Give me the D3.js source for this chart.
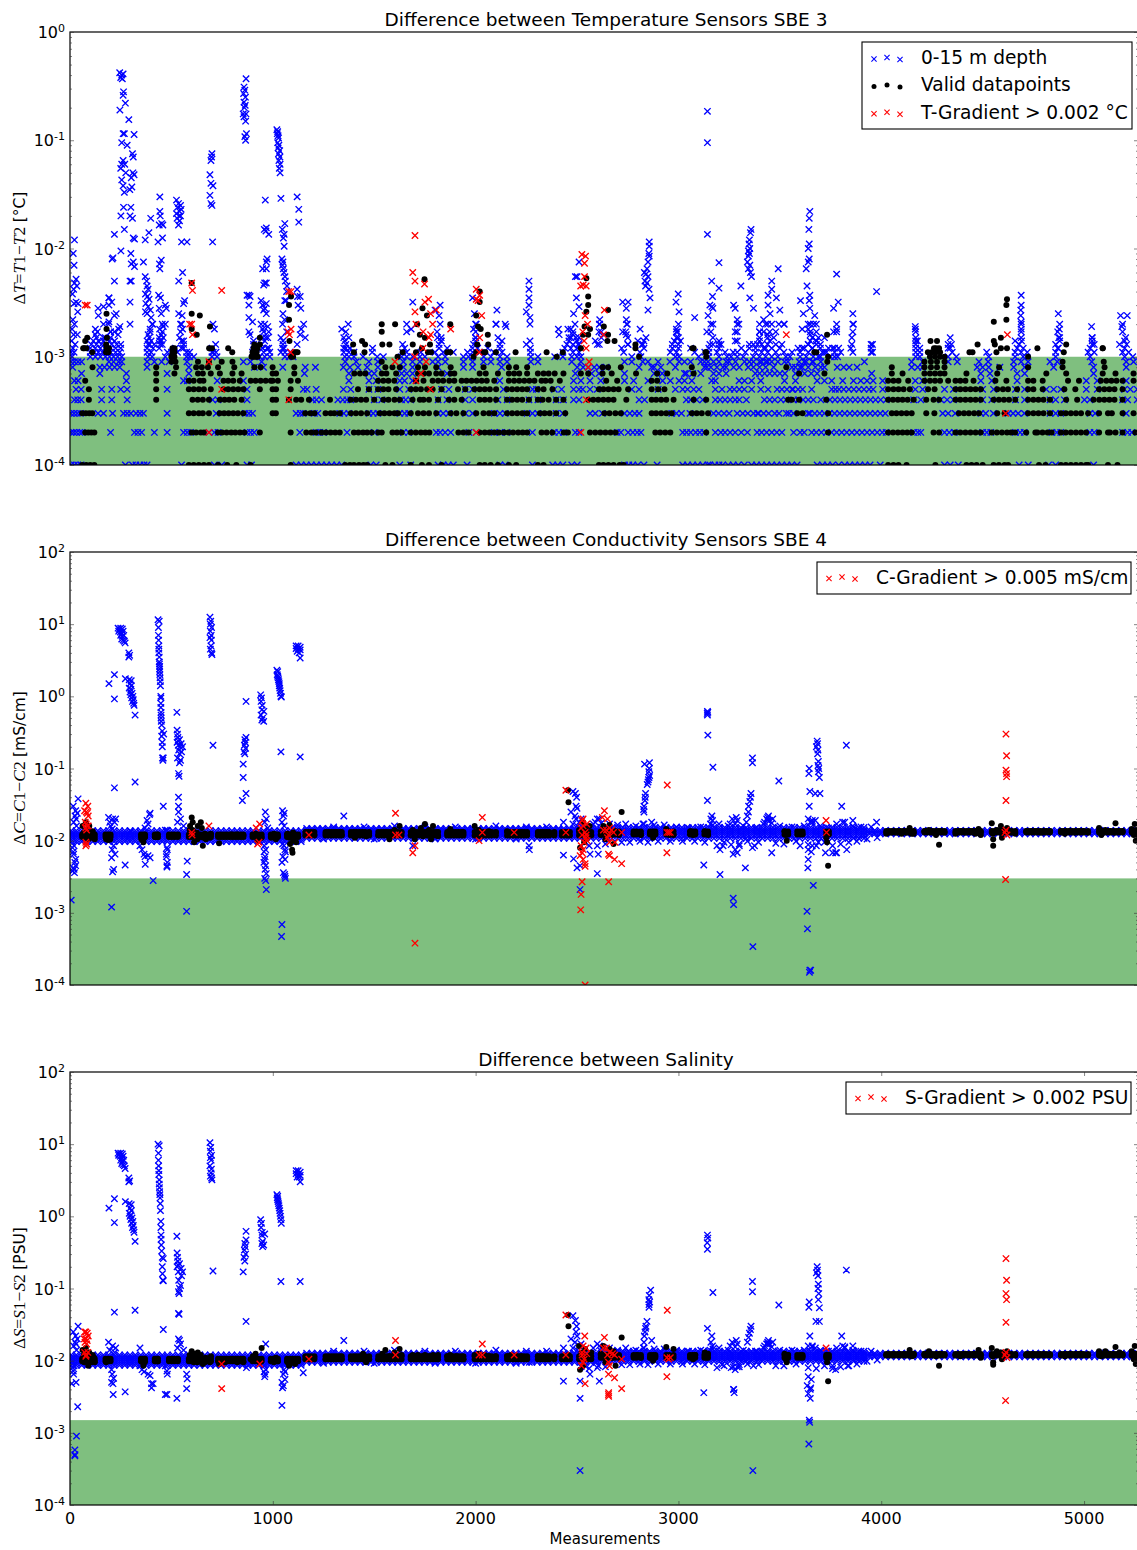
<!DOCTYPE html>
<html><head><meta charset="utf-8">
<script src="https://cdn.jsdelivr.net/npm/d3@7/dist/d3.min.js"></script>
<style>html,body{margin:0;padding:0;background:#fff;overflow:hidden}svg{display:block}text{font-family:"DejaVu Sans",sans-serif;fill:#000}</style>
</head><body><svg id="c" width="1137" height="1550"></svg>
<script>
// ---- Temperature panel: quantised rows (x values per level)
const tLevels=[.0001,.0002,.0003,.0004,.0005,.0006,.0007,.0008,.0009,.001,.0011,.0012,.0013,.0014,.0015,.0017,.002];
const tB1=[5,22,38,55,273,308,325,345,365,380,550,712,748,873,895,1115,1140,1165,1190,1215,1240,1265,1290,1315,1340,1483,1510,1626,1680,1815,1840,1865,1890,1958,2120,2146,2280,2380,2405,2430,2474,2501,2734,2755,2775,2800,2830,2895,3021,3045,3070,3095,3120,3145,3155,3180,3200,3218,3245,3270,3295,3325,3361,3385,3410,3435,3460,3485,3510,3535,3559,3585,3684,3710,3735,3760,3790,3820,3845,3870,3895,3920,3945,3995,4312,4340,4380,4680,4725,4825,4860,5047];
const tB2=[5,18,32,48,60,200,318,335,353,416,479,560,578,595,685,712,730,873,890,908,1133,1214,1232,1250,1366,1500,1644,1670,1806,1825,1850,1877,1967,2003,2092,2120,2155,2280,2388,2410,2433,2492,2510,2698,2716,2752,2775,2797,2815,3021,3040,3060,3085,3105,3125,3182,3209,3230,3255,3280,3310,3340,3388,3410,3435,3460,3485,3510,3568,3600,3657,3680,3705,3730,3755,3780,3805,3830,3855,3880,3905,3930,3955,3980,4005,4024,4160,4180,4195,4312,4335,4360,4500,4520,4540,4662,4685,4705,4842,4865,4885,5029,5050,5190,5215,5235];
const tB3=[4,20,36,52,138,165,210,264,282,300,326,345,362,479,721,864,882,900,1115,1135,1150,1205,1222,1330,1350,1375,1474,1495,1518,1626,1650,1670,1815,1840,1868,1950,1985,2092,2120,2146,2254,2280,2307,2397,2430,2564,2590,2625,2734,2760,2785,2806,2967,2990,3015,3057,3173,3198,3225,3250,3290,3317,3342,3370,3395,3420,3445,3475,3496,3532,3567,3648,3672,3696,3720,3745,3770,3795,3820,3845,3870,3895,3920,3945,3970,3995,4020,4303,4330,4365,4491,4515,4553,4626,4650,4675,4706,4832,4860,4885,5029,5055,5208];
const tB4=[22,38,55,156,206,282,703,730,873,1196,1215,1240,1321,1345,1365,1384,1500,1537,1635,1655,1680,1815,1859,1949,1985,2110,2155,2263,2307,2397,2433,2483,2510,2806,2833,3039,3060,3090,3120,3182,3205,3230,3255,3280,3300,3335,3424,3450,3475,3505,3568,3590,3615,3640,3665,3702,3747,3772,3797,3822,3847,3872,3897,3922,3947,3972,3997,4025,4160,4195,4294,4325,4356,4500,4545,4662,4707,4832,4860,4903,5002,5029,5190,5215,5262];
const tB5=[30,55,156,206,250,282,479,873,1151,1169,1214,1348,1384,1474,1518,1626,1670,1832,1868,1949,1985,2137,2281,2299,2388,2424,2483,2510,2528,2564,2600,2770,2806,2985,3021,3045,3075,3101,3182,3215,3254,3275,3300,3325,3361,3406,3442,3487,3510,3535,3560,3590,3612,3657,3756,3774,3792,3815,3840,3865,3890,3915,3940,3960,4007,4168,4204,4312,4356,4500,4554,4662,4707,4814,4850,4886,5011,5065,5199,5228,5262];
const tB6=[22,40,278,560,578,726,855,1375,1474,1510,1626,1650,1689,2119,2483,2519,2564,2617,2734,2779,2922,2960,3003,3030,3066,3164,3182,3299,3326,3361,3406,3523,3577,3684,3720,3756,3810,3863,3899,3930,3960,4007,4168,4204,4491,4545,4670,5011,5065,5208];
const tB7=[57,147,278,479,586,1156,1375,1474,1500,1635,1660,1689,1859,2492,2572,2608,2734,3039,3173,3200,3235,3379,3400,3425,3450,3475,3500,3525,3577,3622,3655,3684,3953,4491,4536,4670,4707,5047];
const tB8=[13,147,170,195,220,245,380,586,909,954,1049,1160,1210,1348,1380,1420,1465,1518,1644,1689,1815,1940,1985,2128,2501,2530,2555,2585,2610,2644,2806,2868,2913,2985,3128,3160,3190,3235,3272,3300,3344,3370,3400,3430,3469,3577,3610,3640,3675,3702,3783,3815,3842,3881,4150,4180,4204,4473,4500,4530,4585,4653,4707,4850,5047,5208];
const tB9=[5,22,40,57,192,215,240,255,380,416,452,488,577,855,890,945,1357,1411,1474,1518,1644,1689,1725,1788,1815,1850,1940,1985,2039,2075,2120,2155,2272,2307,2474,2519,2734,2770,2824,2958,3003,3128,3146,3173,3200,3236,3281,3326,3370,3400,3430,3460,3490,3523,3595,3630,3665,3702,3917,4150,4204,4330,4375,4482,4527,4653,4690,4724,4832,4868,5038,5208,5244];
const tB10=[10,100,125,150,175,195,215,235,255,385,405,470,575,590,610,700,725,910,935,960,985,1060,1080,1100,1355,1375,1400,1445,1515,1545,1635,1660,1690,1725,1750,1815,1850,1940,1965,1985,2040,2075,2120,2155,2272,2307,2390,2430,2474,2500,2519,2770,2815,2985,3003,3150,3200,3240,3290,3320,3370,3400,3430,3460,3490,3550,3600,3630,3665,3690,3750,3770,3785,4170,4190,4330,4370,4530,4660,4700,4860,5030,5200,5240];
const tB11=[5,20,100,120,140,160,180,200,225,245,380,400,480,500,530,575,590,700,720,900,920,955,985,1060,1085,1350,1375,1400,1490,1640,1660,1730,1800,1840,1890,1960,1985,2020,2090,2130,2270,2430,2480,2510,2730,2810,2960,2990,3150,3190,3230,3290,3380,3410,3440,3480,3520,3600,3640,3680,3710,3730,3770,3800,3860,3950,4170,4190,4350,4520,4660,4690,4720,4860,5020,5050,5190,5220];
const tB12=[15,100,125,150,175,200,225,250,380,410,440,520,550,700,915,950,980,1055,1350,1380,1650,1820,1860,1985,2010,2060,2120,2270,2440,2470,2500,2720,2830,2970,3000,3060,3150,3200,3310,3380,3420,3460,3500,3590,3620,3660,3700,3760,3790,3850,3950,4170,4340,4670,4700,4870,5030,5200];
const tB13=[25,105,130,155,180,205,230,250,385,415,445,560,905,945,1050,1120,1360,1820,1990,2120,2450,2480,2510,2610,2750,2820,2970,3000,3170,3210,3350,3390,3440,3480,3640,3680,3700,3950,4170,4330,4680,4860,5050,5210];
const tB14=[8,115,140,165,195,220,380,400,450,560,905,960,1050,1355,1830,2000,2130,2460,2500,2590,2800,2830,2980,3010,3200,3280,3400,3450,3650,3680,4170,4660,4880,5040,5200];
const tB15=[130,165,200,390,440,460,540,950,975,1350,1830,2000,2470,2510,2620,2750,2840,2990,3170,3400,3440,3470,3660,3690,3720,4170,4340,4690,4880,5040];
const tB17=[135,200,395,455,545,955,1360,1660,1810,2000,2480,2620,2740,2990,3140,3160,3290,3400,3420,3450,3650,3680,3780,3860,4170,4690,4870,5190];
const tB20=[190,405,455,550,960,1660,1825,2000,2100,2490,2610,2745,3000,3170,3290,3400,3440,3460,3520,3650,3680,3780,3860,4690,4880,5190];
const tBlueExtra=[3030,.0007,3070,.0007,3110,.0007,3140,.0008,3220,.0008,3250,.0009,3350,.0009,3410,.0009,3440,.0009,3540,.0009,3560,.0008,3600,.0008,3620,.0009,3660,.0009,3720,.0008,3030,.0009,3060,.0009,3110,.0009,3100,.001,3130,.0011,3080,.0011,3260,.001,3270,.0011,3330,.0011,3350,.0012,3370,.0013,3410,.0013,3430,.0012,3530,.001,3560,.0011,3610,.0012,3640,.0013,3660,.0012,3680,.0014,3700,.001,3720,.0011,3740,.0012,2850,.0009,2880,.0008,2900,.0009,2920,.0007,2850,.0006,2880,.0007,2900,.0005,3390,.0003,3530,.0004,3545,.0003,3565,.0005,3620,.0002,3640,.0003];
const tK1=[60,80,100,120,586,610,635,660,685,730,775,820,890,1088,1357,1380,1400,1425,1447,1465,1555,1590,1680,1735,1770,1832,2020,2045,2074,2110,2164,2200,2307,2335,2608,2630,2655,2680,2710,2730,4034,4060,4085,4125,4267,4420,4445,4470,4500,4554,4580,4608,4626,4778,4810,4886,4910,4935,4960,4985,5010,5020,5118,5165];
const tK2=[75,90,105,120,600,622,645,660,730,750,772,795,815,838,860,936,1088,1165,1190,1212,1240,1262,1285,1308,1330,1400,1422,1445,1465,1488,1520,1537,1590,1612,1635,1680,1705,1730,1752,1772,1915,1940,1965,2020,2045,2068,2092,2115,2140,2162,2185,2210,2232,2254,2325,2350,2378,2435,2455,2564,2590,2615,2640,2665,2690,2886,2910,2935,2960,3137,3738,4034,4058,4082,4105,4128,4150,4258,4285,4366,4390,4415,4440,4465,4490,4545,4570,4595,4620,4640,4660,4715,4760,4770,4795,4820,4840,4886,4910,4935,4960,4985,5010,5074,5118,5128,5155,5190,5253];
const tK3=[60,78,95,110,586,610,635,655,685,738,760,782,805,828,855,999,1015,1160,1185,1205,1260,1285,1303,1330,1385,1410,1435,1465,1527,1550,1575,1600,1617,1680,1716,1743,1770,1806,1877,1905,1940,2003,2039,2066,2092,2155,2180,2205,2230,2254,2317,2340,2365,2397,2442,2635,2660,2689,2716,2868,2890,2915,2940,2967,3066,3090,3115,3146,3586,3612,3738,4052,4075,4100,4125,4150,4222,4262,4383,4408,4432,4458,4482,4572,4608,4724,4750,4775,4800,4832,4886,4910,4935,4960,4985,5020,5074,5118,5137,5190,5244];
const tK4=[93,425,604,630,655,685,739,762,785,810,846,999,1016,1079,1115,1140,1178,1282,1384,1410,1435,1460,1500,1545,1570,1600,1626,1689,1725,1743,1770,1815,1868,1895,1931,2020,2045,2070,2101,2155,2180,2205,2230,2263,2307,2330,2360,2397,2433,2555,2580,2605,2630,2655,2680,2743,2868,2890,2915,2940,2976,3075,3137,3541,3559,3595,3729,4034,4058,4082,4105,4130,4160,4222,4258,4285,4366,4390,4415,4440,4465,4491,4554,4580,4605,4630,4661,4724,4750,4775,4800,4832,4912,4966,5047,5075,5100,5125,5150,5190];
const tK5=[93,425,586,610,635,660,694,757,780,805,830,855,936,999,1016,1088,1420,1474,1519,1545,1570,1608,1680,1705,1730,1761,1788,1832,1913,1949,1994,2020,2045,2070,2101,2155,2180,2205,2230,2254,2307,2335,2379,2608,2630,2655,2680,2705,2752,2868,2900,2931,4034,4060,4085,4110,4141,4231,4263,4366,4390,4415,4440,4465,4491,4572,4600,4625,4670,4724,4750,4796,4903,4957,5074,5100,5125,5150,5190];
const tK6=[75,425,586,610,640,658,757,780,805,837,891,915,940,965,990,999,1025,1088,1124,1519,1545,1570,1599,1707,1743,1788,1815,1840,1870,1895,1931,1955,1980,2005,2030,2055,2092,2164,2190,2215,2240,2265,2290,2325,2345,2370,2415,2644,2698,2868,2895,4034,4060,4085,4133,4213,4240,4265,4290,4330,4366,4390,4415,4455,4563,4617,4724,4750,4796,4921,4975,5083,5110,5135,5160,5190,5244];
const tK7=[425,515,631,655,694,739,801,846,999,1016,1106,1402,1430,1456,1537,1560,1608,1716,1745,1770,1806,1832,1877,1895,2020,2050,2110,2164,2190,2215,2254,2307,2335,2360,2390,2433,2519,2555,2626,2671,2791,2895,2945,3075,3595,3720,4052,4105,4213,4240,4265,4290,4312,4420,4572,4814,4912,5092,5155,5244];
const tK8=[111,425,523,622,650,680,730,810,909,940,999,1106,1555,1590,1626,1716,1750,1806,1877,2039,2164,2200,2254,2626,2653,2716,3066,3532,4052,4213,4245,4275,4312,4581,4724,4894,5101];
const tK9=[500,520,631,685,748,801,1537,3734,4213,4245,4275,4312,4894,5097];
const tK10=[500,505,515,895,905,915,925,4240,4265,4290,4312,3137,3738,2400,1090,1100,1615,1990];
const tK11=[505,515,900,910,920,4250,4270,4290,110,180,190,2430,1106,1122,1640,1706,1765,1860,4435,3670,3680,2040,2100];
const tK12=[65,80,180,192,505,515,700,905,915,925,4270,4285,3075,4770,4620,5092];
// ---- Temperature panel: free points above the rows, flat x,value
const tHighBlue=[22,.012,16,.009,20,.007,30,.0052,22,.0048,34,.0045,18,.0042,12,.0038,30,.0032,20,.0031,40,.0031,38,.0026,14,.0022,22,.002,10,.0018,36,.0016,18,.0016,
138,.0028,165,.0029,140,.0024,165,.002,125,.0018,125,.0016,192,.0021,192,.0035,206,.0032,192,.003,219,.0024,200,.0017,246,.0019,237,.0016,174,.0015,219,.0017,228,.0025,240,.0018,
245,.42,255,.4,262,.41,250,.38,258,.37,264,.28,262,.26,273,.22,246,.19,290,.155,262,.115,316,.113,268,.115,255,.095,282,.09,308,.075,312,.07,262,.065,255,.06,270,.06,250,.055,275,.05,310,.05,316,.048,302,.045,255,.043,262,.038,305,.037,268,.033,295,.035,264,.024,300,.024,251,.02,296,.02,308,.019,268,.015,312,.0125,318,.0122,251,.0095,208,.008,212,.0082,300,.009,302,.0072,312,.0075,318,.0068,219,.0135,219,.005,296,.005,302,.005,192,.0035,296,.0032,296,.002,
371,.012,389,.014,398,.019,362,.0075,371,.0055,378,.005,380,.0045,385,.0042,372,.0038,382,.0036,390,.0034,374,.0031,385,.0029,396,.0027,372,.0026,380,.0025,400,.0023,408,.002,395,.0018,385,.0016,393,.0013,
443,.03,443,.022,445,.02,452,.017,440,.0165,458,.0165,456,.0125,434,.0115,450,.0078,441,.0072,443,.0065,437,.0037,446,.0035,470,.003,440,.0028,450,.0025,475,.0028,470,.002,460,.0019,442,.0018,450,.0016,442,.0014,455,.0013,
525,.028,535,.026,545,.025,530,.024,540,.022,548,.023,525,.021,538,.02,545,.02,528,.019,540,.018,535,.0165,550,.0115,577,.0115,555,.006,536,.005,565,.0033,560,.0031,536,.0025,553,.0024,545,.002,555,.0018,550,.0014,560,.0012,
700,.075,695,.065,698,.07,690,.048,695,.04,705,.038,690,.031,695,.026,700,.025,703,.0115,705,.002,712,.0018,718,.0013,706,.0011,
868,.37,858,.31,862,.29,856,.27,865,.25,858,.225,864,.21,860,.2,854,.175,868,.175,858,.165,866,.15,870,.115,862,.108,866,.1,
873,.0037,882,.0037,888,.0036,882,.003,882,.0023,900,.0021,882,.0017,888,.0016,
963,.028,958,.015,968,.0155,966,.0145,980,.0135,968,.0075,972,.008,950,.0065,968,.0065,960,.0048,968,.0048,955,.0046,942,.0033,950,.003,968,.0031,960,.0028,955,.0027,968,.0025,942,.002,975,.0019,950,.0018,980,.0017,965,.0015,950,.0012,972,.0012,
1020,.125,1024,.12,1022,.115,1026,.11,1028,.105,1024,.095,1030,.09,1026,.085,1034,.08,1028,.075,1035,.07,1030,.065,1036,.06,1032,.055,1036,.05,1040,.029,1059,.017,1047,.015,1056,.0135,1052,.0125,1056,.0105,1045,.008,1050,.0075,1048,.007,1052,.0065,1055,.006,1060,.0055,1062,.005,1070,.0045,1068,.004,1059,.0033,1066,.0033,1050,.0025,1058,.0022,1048,.002,1068,.0017,1040,.0015,1048,.0012,1040,.0011,
1120,.03,1128,.023,1128,.0175,1120,.0042,1122,.0036,1135,.0036,1125,.003,1138,.0028,1152,.002,1140,.0018,1160,.0015,1135,.0016,
1340,.0018,1372,.002,1375,.0015,1380,.0012,1360,.0012,1492,.0012,1640,.0013,1690,.0032,1682,.0018,1825,.003,1800,.0027,1820,.0024,1812,.0015,1830,.0014,1985,.0035,1994,.0025,2003,.002,1990,.0018,2000,.0015,2105,.0027,2101,.002,2110,.0015,2146,.002,2150,.0019,2263,.005,2263,.0042,2263,.0035,2263,.003,2250,.0026,2268,.0023,2268,.002,2268,.0014,2250,.0013,2408,.0018,2412,.0016,2455,.0018,2460,.0015,
2510,.0075,2500,.0055,2492,.0055,2497,.0035,2483,.0025,2510,.0029,2470,.0018,2480,.0016,2495,.0015,2505,.0013,2612,.0022,2612,.002,2608,.0017,2600,.0013,2725,.0032,2752,.0032,2743,.0028,2743,.0022,2748,.002,2725,.0017,2743,.0016,2752,.0013,2811,.0018,2825,.0013,
2856,.0115,2856,.0105,2854,.009,2856,.0085,2850,.0075,2845,.0065,2832,.006,2840,.0058,2850,.0055,2835,.005,2845,.0048,2838,.0045,2855,.0042,2860,.0035,2850,.0027,
2999,.0038,2988,.0032,3003,.0026,2990,.0018,2995,.0017,3000,.0015,3080,.0023,3143,.185,3143,.095,3143,.0135,3164,.005,3168,.0036,3155,.003,3165,.0029,3170,.0028,3146,.0024,3160,.002,3155,.0013,3200,.0074,3200,.0043,3200,.0013,
3272,.003,3280,.0028,3290,.0022,3308,.0045,3298,.002,3280,.0017,3290,.0014,
3358,.015,3355,.014,3350,.012,3348,.011,3352,.01,3345,.0095,3350,.009,3345,.0085,3340,.0075,3352,.007,3345,.0065,3355,.006,3360,.0055,3352,.0035,3370,.0028,3420,.0022,3430,.002,3440,.0016,3400,.0017,
3460,.005,3460,.0042,3442,.0037,3483,.0035,3442,.003,3452,.0025,3495,.002,3492,.0065,3522,.002,3500,.0027,3480,.0017,3510,.0013,
3648,.022,3645,.019,3643,.015,3645,.011,3640,.01,3645,.008,3640,.0075,3630,.0065,3634,.0045,3648,.0037,3602,.0033,3645,.0033,3648,.0028,3616,.0025,3640,.002,3666,.002,3672,.0024,3610,.0018,3640,.0018,3650,.0016,
3780,.0058,3788,.0032,3765,.0028,3780,.0018,3765,.0017,3770,.0012,3860,.0025,3863,.002,3855,.0015,3855,.0013,3977,.004,3957,.0013,3957,.0011,
4168,.0019,4168,.0018,4178,.0014,4190,.0012,4346,.0013,4330,.0012,4690,.0037,4690,.003,4688,.0027,4688,.0024,4690,.0021,4690,.0018,4692,.0014,4873,.0025,4878,.0018,4875,.0015,4873,.0012,5037,.0019,5040,.0015,5040,.0013,5180,.0024,5213,.0024,5186,.0019,5205,.0015,5175,.0013];
const tHighBlack=[70,.0012,75,.0014,85,.0015,180,.0025,180,.0018,182,.0015,178,.0013,184,.0012,178,.0011,
600,.0048,600,.0025,640,.0024,600,.0018,625,.0016,690,.0019,686,.0012,780,.0012,800,.0011,
936,.0015,909,.0013,936,.0013,920,.0012,1090,.0036,1080,.003,1080,.0022,1082,.0014,1115,.0011,
1396,.0013,1440,.0014,1455,.0013,1400,.0011,1452,.0011,1537,.002,1537,.0017,1540,.0013,1575,.0013,1603,.002,
1690,.0013,1748,.0052,1738,.0028,1760,.0024,1712,.002,1725,.0016,1750,.0015,1775,.0013,1735,.0012,1780,.0011,1875,.002,1875,.0011,
2003,.0011,2020,.004,2020,.0032,2003,.0024,2012,.0019,2025,.0018,2008,.0013,2060,.0016,2062,.0013,2048,.0011,2197,.0011,2350,.0011,
2546,.0053,2555,.0036,2555,.003,2546,.0026,2537,.0019,2564,.0018,2530,.0016,2555,.0016,2519,.0012,2653,.0027,2632,.0019,2653,.0016,2650,.0014,2685,.0014,2788,.0013,2788,.0012,2806,.001,3069,.0012,3137,.0011,3133,.0011,3733,.0016,
4243,.0014,4275,.0014,4260,.0012,4230,.0011,4620,.0034,4617,.003,4617,.0022,4555,.0021,4555,.0014,4560,.0013,4568,.0011,4590,.0015,4590,.0012,4450,.0011,4475,.0013,4724,.001,4900,.0011,4912,.0013,5092,.0012];
const tRed=[75,.003,85,.003,600,.0048,604,.0041,748,.0041,590,.002,600,.002,604,.0016,685,.0009,685,.0002,748,.0005,
1079,.004,1090,.004,1075,.0017,1090,.0018,1082,.0016,1088,.0011,1079,.0004,
1701,.0132,1690,.006,1701,.005,1701,.0026,1706,.002,1741,.0017,1768,.0034,1750,.0032,1748,.0047,1778,.0025,1806,.0027,1788,.002,1778,.0016,1770,.0015,1741,.0012,1700,.001,1602,.0009,1756,.0009,1706,.0006,1730,.0007,1778,.0005,1877,.0018,
2003,.0042,2020,.0037,2012,.0033,2003,.0034,2030,.0024,2020,.0015,2017,.0011,2003,.0002,
2524,.0088,2542,.0085,2537,.0073,2537,.0055,2518,.0045,2530,.0046,2545,.0045,2540,.0024,2552,.002,2528,.0017,2535,.0014,2545,.0012,2560,.0009,2555,.0008,2546,.0004,2519,.0002,
2635,.0027,2630,.0016,3532,.0016,4622,.0016,4613,.0003];
// ---- Conductivity / Salinity bands: shared x positions per section
const bandX0=[6,31,58,84,112,137,165,190,217,244,270,296,322,349,375,402,428,455,480,507,534,560,586,612,640,665,692,718,745,771,798,824,850,877,903,930,955,982,1008,1035,1061,1088,1114,1140];
const bandX1=[1167,1193,1220,1246,1273,1299,1325,1352,1378,1405,1431,1458,1484,1510,1537,1563,1590,1616,1643,1669,1695,1722,1748,1775,1801,1828,1854,1880,1907,1933,1960,1986,2013,2039,2065,2092,2118,2145,2171,2198,2224,2250,2277,2303,2330,2356,2383,2409,2435,2462,2488,2515,2541,2568,2594];
const bandX2=[2620,2647,2673,2700,2726,2753,2779,2805,2832,2858,2885,2911,2938,2964,2990,3017,3043,3070,3096,3123,3149,3175,3202,3228,3255,3281,3308,3334,3360,3387,3413,3440,3466,3493,3519,3545,3572,3598,3625,3651,3678,3704,3730,3757,3783,3810,3836,3863,3889,3915];
const bandX3=[3942,3968,3995,4021,4048,4074,4100,4127,4153,4180,4206,4233,4259,4285,4312,4338,4365,4391,4418,4444,4470,4497,4523,4550,4576,4603,4629,4655,4682,4708,4735,4761,4788,4814,4840,4867,4893,4920,4946,4973,4999,5025,5052,5078,5105,5131,5158,5184,5210,5237,5263];
const cBandRows=[[.0097,.0104,.0112,.012,.0128,.0137],[.0108,.0116,.0124,.0132,.014,.0148],[.0108,.0118,.0126,.0134,.0142,.0152],[.0124,.0131,.0139]];
const sBandRows=[[.0086,.0092,.0098,.0105,.0112,.012],[.0095,.0101,.0107,.0113,.012,.0127],[.0098,.0105,.0112,.0119,.0127,.0135],[.0113,.012,.0127]];
// ---- Black band sections (x) shared by both panels, with levels per section
const blackX0=[60,74,88,102,116,122,175,188,200,350,362,370,418,430,434,488,502,516,532,586,600,614,628,642,656,670,684,695,730,744,758,772,786,800,814,828,842,855,900,914,928,945,990,1004,1018,1025,1070,1084,1098,1112,1125];
const blackX1=[1160,1174,1188,1205,1260,1274,1288,1302,1316,1330,1340,1385,1399,1413,1427,1441,1455,1475,1520,1534,1548,1562,1576,1590,1604,1618,1635,1680,1694,1708,1722,1736,1750,1764,1778,1792,1806,1815,1860,1874,1888,1902,1916,1930,1940,1995,2009,2023,2037,2051,2065,2079,2100,2155,2169,2183,2197,2211,2225,2239,2254,2307,2321,2335,2349,2363,2388,2425,2439,2453,2465,2510,2524,2538,2552,2570];
const blackX2=[2617,2631,2645,2659,2673,2687,2707,2779,2793,2815,2860,2874,2886,2940,2954,2976,3057,3070,3083,3128,3146,3523,3541,3586,3600,3612,3729,3742];
const blackX3=[4025,4039,4053,4067,4081,4095,4109,4123,4137,4160,4213,4227,4241,4255,4269,4283,4297,4312,4366,4380,4394,4408,4422,4436,4450,4464,4478,4491,4545,4559,4573,4587,4601,4615,4629,4643,4661,4715,4729,4743,4757,4771,4785,4799,4813,4832,4886,4900,4914,4928,4942,4956,4970,4984,4998,5020,5074,5088,5102,5116,5130,5144,5158,5172,5190,5235,5249,5263];
const cBlackRows=[[.0112,.0122],[.0118,.0132],[.0122,.0134],[.013,.0136]];
const sBlackRows=[[.0098,.0106],[.0105,.0115],[.011,.012],[.0118,.0124]];
// ---- Black band, flat x,value
const cBlack=[62,.016,68,.013,70,.011,78,.018,82,.014,85,.012,90,.0105,95,.016,100,.013,105,.011,112,.0135,118,.012,122,.0105,178,.0105,188,.0102,198,.0104,352,.0105,358,.0115,362,.0095,368,.011,420,.0112,432,.0112,490,.0118,505,.0118,520,.0118,532,.012,
590,.012,590,.014,592,.016,600,.021,605,.018,605,.014,610,.012,612,.0095,625,.013,628,.0105,630,.016,640,.012,645,.018,650,.015,655,.0085,658,.011,665,.0125,670,.0105,680,.012,690,.011,695,.0125,
735,.0115,735,.0092,750,.012,765,.0118,780,.012,795,.0122,810,.012,825,.0122,840,.012,855,.0118,902,.0115,915,.0125,925,.01,935,.0115,945,.011,992,.011,1005,.0125,1015,.0105,1025,.0115,1072,.0125,1080,.011,1085,.009,1097,.0068,1095,.0075,1100,.013,1100,.01,1110,.012,1115,.0095,1125,.0115,
1165,.012,1180,.0125,1195,.012,1205,.0122,1260,.0125,1280,.013,1300,.0125,1320,.0128,1340,.012,1385,.0125,1405,.011,1420,.0125,1440,.013,1460,.0115,1475,.0125,1520,.012,1540,.0125,1555,.013,1575,.0105,1580,.0125,1600,.014,1610,.012,1625,.016,1635,.013,
1680,.012,1690,.014,1700,.0105,1715,.0125,1730,.015,1740,.0115,1750,.017,1762,.012,1770,.014,1780,.0105,1790,.016,1800,.0125,1815,.0115,1860,.0125,1875,.0145,1885,.012,1905,.0125,1920,.013,1940,.0125,1995,.016,2003,.0125,2015,.014,2025,.0115,2045,.0125,2065,.0135,2085,.0125,2100,.013,2155,.0135,2175,.013,2200,.0125,2225,.013,2254,.0125,2307,.0128,2330,.013,2360,.0125,2388,.0125,2425,.0125,2445,.012,2455,.05,2458,.034,2458,.013,
2510,.014,2515,.008,2522,.012,2530,.018,2535,.0095,2540,.015,2548,.011,2555,.013,2562,.016,2570,.012,2617,.012,2630,.016,2640,.0105,2650,.014,2660,.0165,2670,.012,2680,.009,2690,.0135,2707,.012,2720,.025,2779,.0125,2800,.013,2815,.012,2860,.0125,2875,.011,2886,.0125,2940,.0145,2955,.012,2976,.012,3060,.0135,3072,.012,3083,.0125,3130,.0135,3138,.0125,3146,.012,3523,.0135,3530,.012,3534,.01,3541,.0125,3590,.0125,3612,.0125,3729,.011,3733,.0095,3735,.0125,3738,.0045,
4025,.0125,4050,.013,4075,.013,4100,.0125,4125,.013,4140,.015,4150,.0125,4160,.0125,4213,.0135,4235,.014,4255,.013,4270,.012,4290,.0135,4312,.013,4285,.0088,4366,.0125,4390,.0135,4415,.013,4440,.0135,4465,.0125,4480,.0145,4491,.012,4545,.0175,4550,.0125,4552,.0105,4552,.0085,4570,.014,4590,.016,4595,.011,4620,.015,4640,.013,4661,.0125,4715,.0135,4740,.0135,4765,.0135,4790,.013,4815,.0135,4832,.0135,4886,.0135,4905,.0125,4930,.0135,4955,.013,4980,.0135,5000,.0135,5020,.013,5074,.015,5085,.012,5105,.014,5125,.0135,5150,.013,5155,.0175,5175,.0135,5190,.0135,5235,.0145,5245,.012,5250,.017,5255,.01,5258,.014,5263,.012];
const sBlack=[62,.014,68,.012,70,.0095,78,.015,82,.0125,85,.0105,90,.0085,95,.013,100,.011,105,.0095,112,.012,118,.011,122,.0095,178,.0095,188,.01,198,.0102,352,.0098,358,.0095,362,.0085,368,.0095,420,.0098,432,.0098,490,.0105,505,.0105,520,.0105,532,.0105,
590,.0105,590,.012,592,.0115,600,.0135,605,.0125,605,.0105,610,.0095,612,.0125,625,.0115,628,.0095,630,.013,640,.0105,645,.012,650,.0095,655,.009,658,.0105,665,.0095,670,.011,680,.0105,690,.0095,695,.0115,
735,.0105,735,.009,750,.0105,765,.0095,780,.0105,795,.01,810,.0105,825,.0095,840,.0105,855,.0095,890,.0105,902,.0115,915,.0125,925,.0105,935,.0095,945,.015,992,.0105,1005,.0095,1015,.011,1025,.0098,1072,.0095,1080,.0085,1085,.009,1095,.01,1100,.0105,1110,.009,1115,.0105,1125,.0105,
1165,.0105,1180,.011,1195,.0105,1205,.011,1260,.0105,1280,.0112,1300,.0105,1320,.011,1340,.0105,1385,.011,1405,.0105,1420,.0105,1440,.011,1445,.0125,1460,.0095,1475,.0105,1520,.0105,1540,.0125,1555,.014,1575,.0115,1580,.0105,1600,.013,1610,.0115,1625,.0145,1635,.012,
1680,.011,1690,.012,1700,.0105,1715,.012,1730,.0105,1740,.0115,1750,.012,1762,.0108,1770,.0115,1780,.0105,1790,.012,1800,.011,1815,.012,1860,.0115,1875,.012,1885,.0105,1905,.0115,1920,.0105,1940,.0105,1995,.012,2003,.011,2015,.0125,2025,.0105,2045,.012,2065,.0115,2085,.0105,2100,.0115,2155,.0115,2175,.012,2200,.0115,2225,.0115,2254,.011,2307,.0115,2330,.0115,2360,.011,2388,.0112,2425,.011,2445,.011,2455,.043,2458,.03,2458,.012,
2510,.016,2515,.0075,2522,.013,2530,.0085,2535,.0105,2540,.0145,2548,.011,2555,.0105,2562,.012,2570,.013,2617,.0125,2630,.016,2640,.0095,2650,.012,2660,.0145,2670,.011,2680,.0135,2690,.0085,2707,.0115,2720,.021,2779,.0115,2800,.012,2815,.011,2860,.011,2875,.01,2886,.0115,2940,.0155,2955,.011,2976,.0145,3060,.0115,3072,.0105,3083,.012,3130,.013,3138,.011,3146,.0125,3523,.0125,3530,.0105,3534,.0095,3541,.012,3590,.0115,3612,.0115,3729,.0115,3733,.0095,3735,.012,3738,.0052,
4025,.012,4050,.012,4075,.012,4100,.012,4125,.012,4140,.014,4150,.0115,4160,.0125,4213,.0125,4235,.0135,4255,.012,4270,.0115,4290,.0125,4312,.012,4285,.0085,4366,.012,4390,.0115,4415,.0125,4440,.012,4465,.0125,4480,.014,4491,.011,4545,.015,4550,.0115,4552,.0095,4552,.0088,4570,.0135,4590,.013,4595,.0105,4620,.0135,4640,.012,4661,.012,4715,.012,4740,.012,4765,.012,4790,.012,4815,.012,4832,.012,4886,.012,4905,.0115,4930,.0125,4955,.012,4980,.0125,5000,.012,5020,.012,5074,.0135,5085,.0115,5105,.0135,5125,.0125,5150,.012,5155,.0155,5175,.013,5190,.012,5235,.0135,5245,.0105,5250,.016,5255,.009,5258,.0125,5263,.0105];
// ---- Blue spikes and excursions, flat x,value
const cBlue=[237,8.8,243,8.5,250,8.8,258,8.6,240,8,248,7.8,255,7.5,262,8,250,7,258,6.8,265,7,255,6.2,262,6,268,5.8,272,5.5,290,4,294,3.7,290,3.5,273,1.75,292,1.7,302,1.65,296,1.5,302,1.4,292,1.3,300,1.25,296,1.15,306,1.1,300,1.05,310,1,304,.95,312,.9,308,.85,314,.8,316,.75,321,.55,192,1.5,219,2,219,.92,219,.054,321,.065,
434,11.5,440,11,436,9,436,7,437,6,438,5,438,4.5,438,4,440,3.5,440,3,441,2.8,442,2.6,442,2.4,442,2.2,443,2,444,1.8,445,1.6,446,1.4,448,1,448,.95,448,.8,448,.7,449,.6,449,.55,449,.5,450,.45,452,.4,455,.33,462,.3,452,.28,455,.23,455,.2,456,.14,460,.14,458,.13,460,.03,
527,.6,528,.34,530,.3,532,.27,540,.25,528,.23,534,.24,548,.22,534,.21,542,.2,555,.2,536,.18,550,.17,540,.16,530,.14,545,.13,540,.12,535,.085,538,.078,535,.04,535,.03,
690,12.5,694,11,692,10,698,9,692,8,696,7,690,6.5,697,6,695,5,692,4.5,698,4,700,3.8,705,.21,
868,.27,862,.25,864,.23,860,.21,866,.19,858,.17,862,.16,854,.115,854,.075,850,.036,868,.045,868,.85,
940,1.05,944,.95,942,.85,948,.75,946,.65,942,.55,956,.62,950,.5,946,.47,955,.45,
1020,2.3,1024,2.2,1022,2,1024,1.9,1026,1.8,1028,1.7,1030,1.6,1032,1.5,1032,1.4,1034,1.3,1036,1.2,1038,1.1,1040,1,1042,.98,1040,.17,
1115,5,1125,5,1135,4.8,1115,4.6,1125,4.5,1135,4.4,1120,4.2,1130,4,1135,3.4,1135,.145,
40,.038,16,.03,28,.026,36,.024,25,.022,30,.02,18,.018,32,.016,20,.0085,12,.008,16,.007,18,.0065,28,.0055,24,.005,28,.0045,16,.0042,20,.004,22,.0036,12,.0038,6,.0015,
190,.021,210,.02,225,.02,196,.018,220,.018,200,.016,208,.0145,215,.0085,208,.0075,205,.0058,222,.0065,215,.004,210,.0037,205,.0012,
272,.0046,345,.013,300,.0135,
345,.0085,355,.0075,365,.0065,385,.0062,370,.006,395,.0058,371,.0047,395,.024,392,.023,380,.019,385,.017,370,.015,410,.0028,
478,.014,470,.014,478,.008,480,.0075,475,.0065,475,.006,480,.005,478,.0045,478,.0043,
535,.025,545,.02,530,.018,560,.016,578,.0052,575,.0034,575,.00105,
963,.025,968,.02,960,.018,975,.015,958,.0085,965,.0075,957,.007,962,.006,960,.0055,956,.005,965,.0045,962,.004,968,.0035,960,.003,965,.0028,968,.0021,
1048,.026,1056,.024,1052,.022,1045,.018,1056,.016,1048,.009,1055,.0085,1060,.0075,1062,.007,1050,.006,1060,.0055,1045,.005,1052,.0036,1058,.0034,1060,.0032,1062,.003,1045,.00069,1043,.00047,1350,.022,
2433,.018,2433,.0063,2265,.0075,2263,.0085,1690,.0085,
2480,.048,2492,.045,2498,.04,2495,.03,2500,.028,2470,.025,2490,.022,2495,.02,2510,.018,2520,.016,2483,.0056,2515,.0045,2500,.0042,2515,.0021,
2564,.0065,2605,.0065,2600,.0035,2600,.02,2610,.02,2590,.018,
2833,.115,2857,.12,2856,.1,2854,.09,2858,.08,2855,.075,2852,.07,2850,.065,2846,.06,2838,.045,2836,.04,2835,.036,2830,.03,2828,.027,2830,.025,2825,.017,2868,.018,2865,.012,
3143,.62,3145,.6,3142,.58,3143,.55,3145,.29,3170,.104,3143,.036,3165,.022,3160,.02,3168,.019,3158,.017,3125,.0046,
3265,.02,3285,.021,3255,.017,3290,.019,3220,.0085,3205,.0075,3280,.0075,3270,.0065,3290,.0068,3300,.0085,3330,.0042,3205,.0034,
3365,.14,3365,.12,3358,.045,3355,.04,3352,.035,3346,.03,3345,.025,3340,.022,3335,.018,3365,.008,3270,.0016,3272,.0013,3367,.00034,
3444,.022,3440,.021,3435,.02,3425,.018,3465,.02,3450,.019,3495,.067,3460,.0068,3375,.0085,
3684,.24,3686,.22,3680,.2,3688,.18,3686,.16,3690,.125,3688,.11,3692,.1,3690,.09,3695,.075,3675,.045,3698,.045,3645,.1,3643,.085,3648,.048,3645,.03,3640,.02,3675,.019,3650,.018,3660,.019,3660,.0085,3640,.0075,3655,.007,3640,.0055,3638,.0042,3665,.0024,3634,.00105,3636,.0006,3648,.00016,3652,.00016,3646,.00015,
3828,.21,3805,.03,3810,.018,3860,.019,3977,.018,3830,.0075,3775,.0068,3760,.0068,3780,.0068,3725,.0068,3690,.0095,3600,.0085];
const cCloud=[1250,.0105,1300,.0155,1450,.0155,1500,.0105,1600,.016,1750,.0155,1800,.0105,1900,.0155,2000,.0105,2100,.016,2200,.0105,2250,.0155,2350,.0155,2480,.017,2500,.016,2520,.02,2540,.0095,2560,.0085,2580,.017,2600,.0085,2620,.0175,2640,.009,2660,.017,2700,.0165,2720,.0095,2740,.017,2760,.0095,2790,.016,2810,.0098,2830,.017,2850,.0095,2880,.0165,2900,.0098,2930,.0165,2960,.0098,2990,.0155,3020,.0098,3050,.015,3080,.0098,3110,.0155,3130,.0095,3170,.0165,3190,.0085,3200,.017,3225,.0095,3245,.016,3260,.0088,3280,.017,3300,.009,3320,.016,3340,.0098,3380,.015,3395,.0095,3420,.017,3440,.019,3460,.0175,3480,.0092,3500,.016,3520,.009,3560,.0155,3580,.0098,3620,.016,3640,.0088,3660,.018,3680,.0085,3700,.016,3720,.0095,3740,.015,3760,.0085,3780,.017,3800,.009,3820,.018,3840,.0095,3860,.016,3880,.0098,3900,.0155,3930,.0105,3950,.0155,3980,.011];
const sBlue=[237,7.5,243,7.3,250,7.5,258,7.3,240,7,248,6.8,255,6.5,262,6.8,250,6,258,5.8,265,6,255,5.4,262,5.2,268,5,272,4.6,290,3.4,294,3.1,290,3,273,1.6,292,1.5,302,1.45,296,1.3,302,1.2,292,1.1,300,1.05,296,1,306,.95,300,.9,310,.85,304,.8,312,.75,308,.7,314,.65,316,.6,321,.45,192,1.3,219,1.75,219,.82,219,.047,321,.05,
434,10,440,9.5,436,7.5,436,6,437,5,438,4.3,438,3.8,440,3.2,440,2.8,441,2.5,442,2.2,443,2,444,1.8,445,1.5,446,1.2,448,.85,448,.7,449,.55,449,.48,450,.4,452,.33,455,.27,460,.26,455,.2,456,.16,458,.13,460,.128,460,.027,
527,.53,528,.31,530,.27,532,.24,540,.22,528,.2,534,.21,548,.19,534,.17,555,.17,550,.15,536,.13,545,.11,540,.1,535,.09,538,.085,535,.045,538,.044,
690,10.5,694,9,692,8,698,7,692,6.5,696,6,690,5,697,4.5,695,4,692,3.6,698,3.4,700,3.2,705,.175,
868,.47,862,.42,864,.38,860,.34,866,.3,858,.27,862,.24,854,.17,868,.62,868,.035,
940,.9,944,.8,942,.7,948,.6,946,.55,960,.57,950,.45,946,.42,955,.4,950,.38,
1020,2,1024,1.9,1022,1.8,1024,1.7,1026,1.6,1028,1.5,1030,1.4,1032,1.3,1034,1.2,1036,1.1,1038,1,1040,.9,1042,.8,1040,.125,
1115,4.3,1125,4.3,1135,4.1,1115,3.9,1125,3.8,1135,3.7,1120,3.5,1130,3.5,1135,3,1135,.125,
40,.03,16,.025,28,.022,36,.02,25,.018,30,.017,18,.016,32,.014,20,.0085,12,.008,16,.0072,18,.0065,8,.0048,30,.005,38,.0023,32,.0009,24,.00058,24,.00048,24,.0005,
190,.018,210,.016,225,.015,196,.014,220,.013,205,.0075,208,.0065,215,.0057,205,.005,212,.0048,213,.0034,272,.0037,345,.015,
345,.0085,355,.0075,365,.007,385,.0065,395,.0062,402,.0048,410,.0048,402,.0042,470,.0034,478,.0034,480,.0065,478,.0072,470,.0085,
535,.02,545,.017,530,.015,560,.014,540,.019,527,.003,575,.0041,578,.0056,575,.0065,
965,.017,958,.0085,965,.0075,957,.007,962,.0065,960,.006,1045,.011,1050,.009,1055,.0075,1060,.007,1052,.0065,1060,.0055,1045,.005,1052,.0045,1048,.0042,1045,.0024,870,.008,1150,.0068,1350,.019,
2433,.015,2433,.0052,2265,.0095,2480,.042,2492,.036,2498,.03,2495,.025,2500,.022,2470,.02,2490,.018,2510,.016,2515,.0052,2515,.003,2520,.0082,
2564,.0065,2610,.0052,2605,.0085,2590,.0098,2600,.017,2610,.016,
2863,.095,2856,.08,2854,.07,2858,.065,2855,.06,2855,.055,2845,.035,2840,.03,2838,.028,2835,.025,2832,.022,2830,.018,2828,.015,2868,.019,
3143,.55,3145,.5,3142,.43,3143,.35,3170,.088,3143,.028,3165,.022,3160,.018,3168,.016,3155,.014,3125,.0036,
3265,.018,3285,.019,3255,.016,3290,.017,3215,.0088,3300,.0088,3290,.0082,3270,.0082,3280,.0075,3272,.004,3275,.0036,3272,.004,
3365,.125,3365,.09,3358,.03,3355,.027,3350,.024,3346,.021,3340,.018,3370,.0085,3367,.0003,2515,.0003,
3444,.019,3440,.018,3435,.017,3425,.016,3465,.018,3450,.017,3495,.059,
3684,.2,3686,.18,3680,.165,3688,.15,3690,.115,3688,.1,3692,.085,3690,.07,3695,.054,3678,.035,3695,.035,3645,.065,3643,.055,3648,.022,3640,.016,3660,.016,3675,.015,3640,.006,3655,.0055,3635,.0045,3650,.004,3640,.0035,3652,.0042,3650,.003,3645,.0015,3647,.0014,3643,.0007,
3828,.18,3805,.022,3810,.016,3860,.016,3820,.015,3835,.0085,3775,.0075,3760,.0085];
const sCloud=[1250,.0092,1300,.0135,1450,.0135,1500,.0092,1600,.014,1750,.0135,1800,.0092,1900,.0135,2000,.0092,2100,.014,2200,.0092,2250,.0135,2350,.0135,2480,.015,2500,.014,2520,.017,2540,.0085,2560,.0078,2580,.015,2600,.008,2620,.015,2640,.0082,2660,.015,2700,.014,2720,.0088,2740,.015,2760,.0088,2790,.014,2810,.009,2830,.015,2850,.0088,2880,.0145,2900,.009,2930,.0145,2960,.009,2990,.014,3020,.009,3050,.0135,3080,.009,3110,.014,3130,.0088,3170,.0145,3190,.008,3200,.015,3225,.0085,3245,.014,3260,.008,3280,.0155,3300,.0082,3320,.014,3340,.009,3380,.0135,3395,.0088,3420,.015,3440,.017,3460,.0155,3480,.0085,3500,.014,3520,.0085,3560,.014,3580,.009,3620,.014,3640,.008,3660,.0155,3680,.0078,3700,.014,3720,.0085,3740,.0135,3760,.0078,3780,.015,3800,.0082,3820,.0155,3840,.0085,3860,.014,3880,.009,3900,.0135,3930,.0098,3950,.0135,3980,.0102];
// ---- Red marks, flat x,value
const cRed=[78,.033,88,.03,72,.026,80,.025,85,.024,90,.022,75,.018,80,.017,85,.016,78,.015,82,.014,90,.016,78,.0095,82,.009,78,.0085,600,.013,602,.012,685,.016,935,.017,918,.015,932,.0095,925,.009,1178,.012,1605,.024,1605,.012,1622,.012,1690,.0068,1701,.0085,1701,.00038,2033,.021,2033,.013,2017,.01,2190,.013,2445,.013,2445,.05,
2520,.0018,2518,.0011,2525,.0027,2540,.0044,2530,.0055,2530,.0075,2515,.0062,2525,.0068,2520,.0085,2535,.0095,2545,.011,2525,.012,2540,.013,2520,.015,2530,.016,2548,.017,2525,.019,2530,.02,2545,.012,2550,.01,2540,.0048,2540,.0001,
2635,.026,2625,.021,2650,.02,2630,.014,2645,.014,2660,.015,2670,.014,2680,.013,2650,.011,2655,.012,2660,.0095,2687,.0095,2655,.0065,2660,.0062,2685,.0055,2720,.0048,2656,.0027,2720,.013,
2945,.059,2943,.013,2952,.013,2960,.013,2943,.0068,3728,.019,3730,.013,4615,.3,4618,.15,4615,.095,4618,.085,4618,.077,4615,.036,4613,.0029,4610,.013,4615,.014,4620,.012];
const sRed=[72,.025,78,.025,85,.024,90,.022,70,.02,78,.02,85,.019,74,.018,82,.017,72,.013,80,.012,88,.013,78,.0115,748,.009,748,.0041,936,.009,1178,.0105,1605,.019,1605,.012,2033,.017,2017,.012,2033,.012,2190,.012,2445,.043,2445,.012,
2538,.022,2525,.013,2530,.016,2545,.015,2525,.012,2535,.0105,2522,.0085,2530,.0095,2548,.0125,2540,.0048,
2635,.021,2630,.015,2645,.015,2660,.013,2675,.0125,2685,.012,2650,.012,2655,.0095,2660,.0085,2655,.0065,2685,.0058,2720,.0041,2656,.0036,2655,.0034,2656,.0032,2720,.0105,
2945,.05,2943,.011,2952,.0105,2960,.011,2943,.006,3728,.015,4615,.26,4618,.13,4615,.085,4618,.07,4615,.034,4613,.0028,4610,.012,4615,.013,4620,.011];
const xTicks=[0,1000,2000,3000,4000,5000];
const titles=["Difference between Temperature Sensors SBE 3","Difference between Conductivity Sensors SBE 4","Difference between Salinity"];
const greenTops=[.001,.003,.0015];

const pairs=a=>{const o=[];for(let i=0;i+1<a.length;i+=2)o.push([a[i],a[i+1]]);return o};
const rows=(lists,levels)=>lists.flatMap((l,i)=>l.map(x=>[x,levels[i]]));
const secPts=(secs,r)=>secs.flatMap((xs,i)=>r[i].flatMap(v=>xs.map(x=>[x,v])));
const bandSecs=[bandX0,bandX1,bandX2,bandX3], blackSecs=[blackX0,blackX1,blackX2,blackX3];

const svg=d3.select("#c");
const x=d3.scaleLinear().domain([0,5266]).range([70,1138]);
const cross="M-3.2,-3.2L3.2,3.2M-3.2,3.2L3.2,-3.2";
svg.append("defs").selectAll("clipPath").data([0,1,2]).join("clipPath").attr("id",d=>"clip"+d)
  .append("rect").attr("x",70).attr("width",1068).attr("y",d=>[32,552,1072][d]).attr("height",433);

function xmarks(g,data,y,color){
  g.append("g").selectAll("path").data(data).join("path").attr("d",cross)
   .attr("transform",d=>`translate(${x(d[0])},${y(d[1])})`).attr("fill","none").attr("stroke",color).attr("stroke-width",1.35);
}
function dots(g,data,y){
  g.append("g").selectAll("circle").data(data).join("circle").attr("cx",d=>x(d[0])).attr("cy",d=>y(d[1])).attr("r",3).attr("fill","#000");
}
function mathLabel(g,cy,sym,unit){
  const t=g.append("text").attr("transform",`translate(25,${cy}) rotate(-90)`).attr("text-anchor","middle").attr("font-size",17.5).style("font-family",'"Liberation Serif",serif');
  t.append("tspan").text("Δ");
  t.append("tspan").attr("font-style","italic").text(sym);
  t.append("tspan").text("=");
  t.append("tspan").attr("font-style","italic").text(sym);
  t.append("tspan").text("1−");
  t.append("tspan").attr("font-style","italic").text(sym);
  t.append("tspan").text("2 ");
  t.append("tspan").style("font-family",'"DejaVu Sans"').attr("font-size",15.5).text(unit);
}
function panel(i,top,yMax,blueData,blackData,redData,ySym,yUnit,legend){
  const y=d3.scaleLog().domain([1e-4,yMax]).range([top+433,top]);
  const g=svg.append("g");
  g.append("rect").attr("x",70).attr("width",1068).attr("y",y(greenTops[i])).attr("height",top+433-y(greenTops[i])).attr("fill","#008000").attr("fill-opacity",.5);
  const c=g.append("g").attr("clip-path",`url(#clip${i})`);
  xmarks(c,blueData,y,"#0000ff");
  dots(c,blackData,y);
  xmarks(c,redData,y,"#ff0000");
  g.append("rect").attr("x",70).attr("y",top).attr("width",1068).attr("height",433).attr("fill","none").attr("stroke","#000").attr("stroke-width",1.2);
  const dec=Math.round(Math.log10(yMax));
  const maj=d3.range(-4,dec+1).map(e=>Math.pow(10,e));
  const min=d3.range(-4,dec).flatMap(e=>d3.range(2,10).map(m=>m*Math.pow(10,e)));
  [[70,1],[1138,-1]].forEach(([px,dir])=>{
    const A=dir>0?d3.axisLeft:d3.axisRight;
    const ag=g.append("g").attr("transform",`translate(${px},0)`).call(A(y).tickValues(maj).tickSize(-4).tickFormat(""));
    ag.select(".domain").remove(); ag.selectAll("line").attr("stroke","#333").attr("stroke-width",.6);
    const bg=g.append("g").attr("transform",`translate(${px},0)`).call(A(y).tickValues(min).tickSize(-2).tickFormat(""));
    bg.select(".domain").remove(); bg.selectAll("line").attr("stroke","#333").attr("stroke-width",.6);
  });
  maj.forEach(v=>{
    const t=g.append("text").attr("x",65).attr("y",y(v)+6).attr("text-anchor","end").attr("font-size",16);
    t.append("tspan").text("10");
    t.append("tspan").attr("font-size",11).attr("dy",-6).text(Math.round(Math.log10(v)));
  });
  g.append("text").attr("x",606).attr("y",top-6).attr("text-anchor","middle").attr("font-size",18.5).text(titles[i]);
  mathLabel(g,top+216,ySym,yUnit);
  const L=g.append("g");
  L.append("rect").attr("x",legend.x0).attr("y",top+legend.dy).attr("width",legend.x1-legend.x0).attr("height",legend.h).attr("fill","#fff").attr("stroke","#000").attr("stroke-width",1.1);
  legend.items.forEach((it,k)=>{
    const cy=top+legend.dy+legend.first+k*27.4;
    [0,13,26].forEach((o,n)=>{
      const yy=cy+[0.5,-1,1][n], xx=legend.x0+12+o;
      if(it.c==="k") L.append("circle").attr("cx",xx).attr("cy",yy).attr("r",2.5).attr("fill","#000");
      else L.append("path").attr("d","M-2.6,-2.6L2.6,2.6M-2.6,2.6L2.6,-2.6").attr("transform",`translate(${xx},${yy})`).attr("fill","none").attr("stroke",it.c).attr("stroke-width",1.1);
    });
    L.append("text").attr("x",legend.x0+59).attr("y",cy+5.5).attr("font-size",18.6).text(it.t);
  });
  if(i===2){
    const ax=g.append("g").attr("transform",`translate(0,${top+433})`).call(d3.axisBottom(x).tickValues(xTicks).tickSize(-4).tickFormat(""));
    ax.select(".domain").remove(); ax.selectAll("line").attr("stroke","#333").attr("stroke-width",.6);
    const at=g.append("g").attr("transform",`translate(0,${top})`).call(d3.axisTop(x).tickValues(xTicks).tickSize(-4).tickFormat(""));
    at.select(".domain").remove(); at.selectAll("line").attr("stroke","#333").attr("stroke-width",.6);
    xTicks.forEach(v=>g.append("text").attr("x",x(v)).attr("y",top+452).attr("text-anchor","middle").attr("font-size",16).text(v));
    g.append("text").attr("x",605).attr("y",top+472).attr("text-anchor","middle").attr("font-size",15).text("Measurements");
  }
}
const tBlue=[...rows([tB1,tB2,tB3,tB4,tB5,tB6,tB7,tB8,tB9,tB10,tB11,tB12,tB13,tB14,tB15,tB17,tB20],tLevels),...pairs(tHighBlue),...pairs(tBlueExtra)];
const tBlack=[...rows([tK1,tK2,tK3,tK4,tK5,tK6,tK7,tK8,tK9,tK10,tK11,tK12],tLevels),...pairs(tHighBlack)];
panel(0,32,1,tBlue,tBlack,pairs(tRed),"T","[°C]",{x0:862,x1:1132,dy:10,h:87,first:16.5,items:[{c:"#0000ff",t:"0-15 m depth"},{c:"k",t:"Valid datapoints"},{c:"#ff0000",t:"T-Gradient > 0.002 °C"}]});
panel(1,552,100,[...secPts(bandSecs,cBandRows),...pairs(cBlue),...pairs(cCloud)],[...secPts(blackSecs,cBlackRows),...pairs(cBlack)],pairs(cRed),"C","[mS/cm]",{x0:817,x1:1131,dy:10,h:32,first:16,items:[{c:"#ff0000",t:"C-Gradient > 0.005 mS/cm"}]});
panel(2,1072,100,[...secPts(bandSecs,sBandRows),...pairs(sBlue),...pairs(sCloud)],[...secPts(blackSecs,sBlackRows),...pairs(sBlack)],pairs(sRed),"S","[PSU]",{x0:846,x1:1131,dy:10,h:32,first:16,items:[{c:"#ff0000",t:"S-Gradient > 0.002 PSU"}]});
</script></body></html>
